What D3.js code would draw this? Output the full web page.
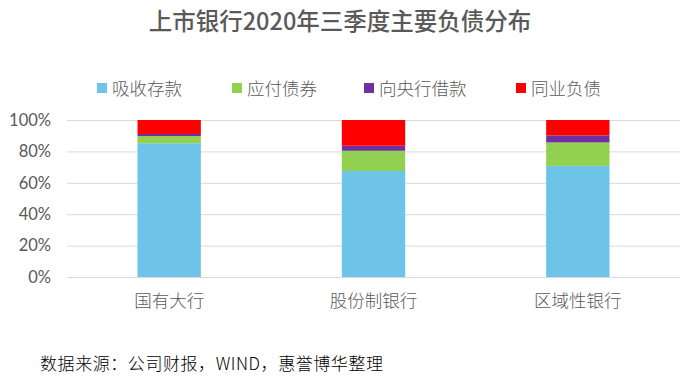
<!doctype html>
<html>
    <head>
        <meta charset="utf-8">
        <style>
            body {margin:0; background:#fff;}
            svg {width:693px; height:384px; display:block;}
            text {font-family:"Noto Sans CJK SC","Noto Sans",sans-serif;}
            .axis line {stroke:#d9d9d9;}
            .axis path {display:none;}
        </style>
        <script src="https://d3js.org/d3.v7.min.js"></script>
    </head>
    <body>
        <script>
            // categories and series (percent of liabilities)
            var categories = ["国有大行","股份制银行","区域性银行"];
            var seriesNames = ["吸收存款","应付债券","向央行借款","同业负债"];
            var deposits = [85.2, 67.5, 70.8];
            var bonds    = [4.6, 12.9, 14.9];
            var pboc     = [1.3, 3.2, 4.5];
            var interbank= [8.9, 16.4, 9.8];
            var yTicks = [0,20,40,60,80,100];
            var colors = ["#6EC3E8","#92D050","#7030A0","#FF0000"];

            var svg = d3.select("body").append("svg");

            var x = d3.scaleBand().domain(categories).range([67,680])
                .paddingInner(0.69).paddingOuter(0.345);
            var y = d3.scaleLinear().domain([0,100]).range([277,120]);

            //gridlines + y labels
            var yAxis = svg.append("g").attr("class","axis")
                .attr("transform","translate(67,0)")
                .call(d3.axisLeft(y).tickValues(yTicks).tickSize(-613)
                    .tickPadding(16).tickFormat(function(d){return d+"%"}));
            yAxis.selectAll("text").attr("fill","#595959").style("font-size","16.5px")
                .style("font-family","Lato,'Noto Sans',sans-serif");

            //stack data
            var rows = categories.map(function(c,i){
                return {cat:c, s0:deposits[i], s1:bonds[i], s2:pboc[i], s3:interbank[i]};
            });
            var stack = d3.stack().keys(["s0","s1","s2","s3"])(rows);

            svg.append("g").selectAll("g")
                .data(stack).enter().append("g")
                .attr("fill",function(d,i){return colors[i]})
                .selectAll("rect")
                .data(function(d){return d}).enter().append("rect")
                .attr("x",function(d){return x(d.data.cat)})
                .attr("width",x.bandwidth())
                .attr("y",function(d){return y(d[1])})
                .attr("height",function(d){return y(d[0])-y(d[1])});

            //category labels
            svg.append("g").selectAll("text")
                .data(categories).enter().append("text")
                .attr("x",function(d){return x(d)+x.bandwidth()/2})
                .attr("y",307)
                .attr("text-anchor","middle")
                .attr("fill","#595959")
                .style("font-size","17.5px").style("font-weight","300")
                .text(function(d){return d});

            //title
            svg.append("text")
                .attr("x",340).attr("y",30)
                .attr("text-anchor","middle")
                .attr("fill","#595959")
                .style("font-size","23.5px").style("font-weight","500")
                .text("上市银行2020年三季度主要负债分布");

            //legend
            var legendX = [97,232,364,516];
            var legend = svg.append("g").selectAll("g")
                .data(seriesNames).enter().append("g")
                .attr("transform",function(d,i){return "translate("+legendX[i]+",88)"});
            legend.append("rect").attr("x",0).attr("y",-5).attr("width",10).attr("height",10)
                .attr("fill",function(d,i){return colors[i]});
            legend.append("text").attr("x",15).attr("y",6.5)
                .attr("fill","#595959").style("font-size","17.5px").style("font-weight","300")
                .text(function(d){return d});

            //source note
            svg.append("text")
                .attr("x",40).attr("y",370)
                .attr("fill","#000")
                .style("font-size","17px").style("font-weight","300")
                .attr("textLength",343).attr("lengthAdjust","spacing")
                .text("数据来源：公司财报，WIND，惠誉博华整理");
        </script>
    </body>
</html>
